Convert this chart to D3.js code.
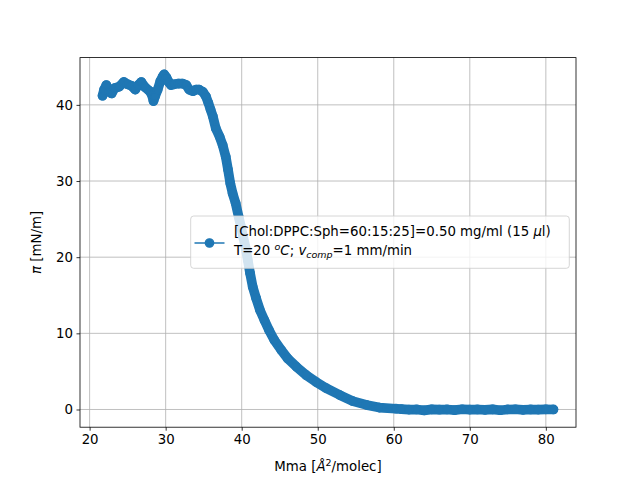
<!DOCTYPE html>
<html>
<head>
<meta charset="utf-8">
<script src="https://cdn.jsdelivr.net/npm/d3@7"></script>
<style>
  body { margin: 0; background: #fff; }
  svg { font-family: "DejaVu Sans", sans-serif; }
  .tick text { font-size: 13.33px; fill: #000; }
</style>
</head>
<body>
<div id="chart"></div>
<script>
// isotherm: mean molecular area vs surface pressure
var mma = [21.7, 21.9, 22.2, 22.6, 22.9, 23.3, 23.9, 24.5, 25.0, 25.5,
           26.0, 26.4, 26.8, 27.3, 27.9, 28.2, 28.4, 28.6, 28.95, 29.3,
           29.6, 29.8, 30.1, 30.4, 30.7, 31.1, 31.7, 32.2, 32.7, 33.1,
           33.6, 34.0, 34.4, 34.9, 35.3, 35.6, 35.9, 36.2, 36.6, 37.1,
           37.5, 37.9, 38.2, 38.5, 38.8, 39.2, 39.6, 39.9, 40.2, 40.5,
           40.8, 41.1, 41.45, 41.9, 42.4, 43.0, 43.6, 44.3, 45.2, 46.05,
           47.2, 48.5, 49.8, 51.1, 52.9, 54.6, 56.4, 58.1, 60.3, 61.0,
           62.0, 63.0, 64.0, 65.0, 66.0, 67.0, 68.0, 69.0, 70.0, 71.0,
           72.0, 73.0, 74.0, 75.0, 76.0, 77.0, 78.0, 79.0, 80.0, 81.0];
var pi  = [41.2, 42.0, 42.6, 41.7, 41.5, 42.2, 42.4, 43.0, 42.7, 42.5,
           42.0, 42.6, 43.0, 42.3, 41.8, 41.3, 40.5, 41.1, 42.0, 43.1,
           43.7, 44.0, 43.6, 43.0, 42.6, 42.7, 42.8, 42.8, 42.6, 42.0,
           41.8, 42.0, 42.0, 41.7, 41.1, 40.3, 39.4, 38.5, 36.9, 35.8,
           34.7, 33.2, 31.5, 29.7, 28.4, 27.1, 25.3, 24.0, 22.6, 21.3,
           19.6, 17.9, 16.1, 14.6, 13.05, 11.7, 10.4, 9.1, 7.8, 6.7,
           5.6, 4.5, 3.6, 2.8, 1.9, 1.1, 0.6, 0.25, 0.1, 0.05,
           -0.02, 0.0, -0.12, 0.02, -0.03, 0.0, -0.08, 0.03, -0.02, 0.0,
           -0.05, 0.02, -0.1, 0.0, 0.03, -0.04, 0.0, -0.02, 0.02, 0.0];
var xTicks = [20, 30, 40, 50, 60, 70, 80];
var yTicks = [0, 10, 20, 30, 40];

var W = 640, H = 480;
var axL = 80, axR = 576, axT = 57.6, axB = 427.2;
var blue = '#1f77b4';

var points = mma.map(function(d, i) { return {x: d, y: pi[i]}; });

function padded(ext) {
    var p = (ext[1] - ext[0]) * 0.05;
    return [ext[0] - p, ext[1] + p];
}

var x = d3.scaleLinear().domain(padded(d3.extent(mma))).range([axL, axR]);
var y = d3.scaleLinear().domain(padded(d3.extent(pi))).range([axB, axT]);

var svg = d3.select('#chart').append('svg')
    .attr('width', W)
    .attr('height', H);

svg.append('rect').attr('width', W).attr('height', H).attr('fill', '#fff');

// grid
svg.append('g').selectAll('line')
    .data(xTicks).enter().append('line')
        .attr('x1', function(d) { return x(d); })
        .attr('x2', function(d) { return x(d); })
        .attr('y1', axT).attr('y2', axB)
        .attr('stroke', '#b0b0b0').attr('stroke-width', 0.8);
svg.append('g').selectAll('line')
    .data(yTicks).enter().append('line')
        .attr('y1', function(d) { return y(d); })
        .attr('y2', function(d) { return y(d); })
        .attr('x1', axL).attr('x2', axR)
        .attr('stroke', '#b0b0b0').attr('stroke-width', 0.8);

// data: marker band, thin line, markers
svg.append('clipPath').attr('id', 'clip')
    .append('rect').attr('x', axL).attr('y', axT)
    .attr('width', axR - axL).attr('height', axB - axT);

var plot = svg.append('g').attr('clip-path', 'url(#clip)');
var line = d3.line()
    .x(function(d) { return x(d.x); })
    .y(function(d) { return y(d.y); });

plot.append('path')
    .datum(points)
    .attr('d', line)
    .attr('fill', 'none')
    .attr('stroke', blue)
    .attr('stroke-width', 9.7)
    .attr('stroke-linejoin', 'round')
    .attr('stroke-linecap', 'round');
plot.append('path')
    .datum(points)
    .attr('d', line)
    .attr('fill', 'none')
    .attr('stroke', blue)
    .attr('stroke-width', 1.5);
plot.selectAll('circle')
    .data(points).enter().append('circle')
        .attr('cx', function(d) { return x(d.x); })
        .attr('cy', function(d) { return y(d.y); })
        .attr('r', 4.17)
        .attr('fill', blue)
        .attr('stroke', blue)
        .attr('stroke-width', 1.39);

// axes
var xAxis = svg.append('g')
    .attr('transform', 'translate(0,' + axB + ')')
    .call(d3.axisBottom(x).tickValues(xTicks).tickSize(3.5).tickPadding(3.5).tickFormat(d3.format('d')));
var yAxis = svg.append('g')
    .attr('transform', 'translate(' + axL + ',0)')
    .call(d3.axisLeft(y).tickValues(yTicks).tickSize(3.5).tickPadding(3.5).tickFormat(d3.format('d')));
[xAxis, yAxis].forEach(function(a) {
    a.select('.domain').remove();
    a.selectAll('.tick line').attr('stroke', '#000').attr('stroke-width', 0.8);
    a.selectAll('.tick text').attr('font-family', '"DejaVu Sans", sans-serif').attr('font-size', 13.33);
});

svg.append('rect')
    .attr('x', axL).attr('y', axT)
    .attr('width', axR - axL).attr('height', axB - axT)
    .attr('fill', 'none')
    .attr('stroke', '#000')
    .attr('stroke-width', 0.8);

// axis labels
var xl = svg.append('text')
    .attr('x', (axL + axR) / 2)
    .attr('y', 471)
    .attr('text-anchor', 'middle')
    .attr('font-size', 13.33);
xl.append('tspan').text('Mma [');
xl.append('tspan').attr('font-style', 'italic').text('Å');
xl.append('tspan').attr('font-size', 9.5).attr('dy', -5.5).text('2');
xl.append('tspan').attr('dy', 5.5).text('/molec]');

var yl = svg.append('text')
    .attr('transform', 'translate(41,' + ((axT + axB) / 2) + ') rotate(-90)')
    .attr('text-anchor', 'middle')
    .attr('font-size', 13.33);
yl.append('tspan').attr('font-style', 'italic').text('π');
yl.append('tspan').text(' [mN/m]');

// legend
var lg = svg.append('g');
lg.append('rect')
    .attr('x', 190.7).attr('y', 216)
    .attr('width', 378.6).attr('height', 52.3)
    .attr('rx', 3)
    .attr('fill', '#fff').attr('fill-opacity', 0.8)
    .attr('stroke', '#cccccc').attr('stroke-width', 0.8);
lg.append('line')
    .attr('x1', 194.5).attr('x2', 224.5)
    .attr('y1', 243).attr('y2', 243)
    .attr('stroke', blue).attr('stroke-width', 1.5);
lg.append('circle')
    .attr('cx', 209.5).attr('cy', 243).attr('r', 4.17)
    .attr('fill', blue).attr('stroke', blue).attr('stroke-width', 1.39);

var t1 = lg.append('text').attr('x', 234).attr('y', 236).attr('font-size', 13.33);
t1.append('tspan').text('[Chol:DPPC:Sph=60:15:25]=0.50 mg/ml (15 ');
t1.append('tspan').attr('font-style', 'italic').text('μ');
t1.append('tspan').text('l)');

var t2 = lg.append('text').attr('x', 234).attr('y', 255).attr('font-size', 13.33);
t2.append('tspan').text('T=20 ');
t2.append('tspan').attr('font-style', 'italic').attr('font-size', 9.5).attr('dy', -5.5).text('o');
t2.append('tspan').attr('font-style', 'italic').attr('dy', 5.5).text('C');
t2.append('tspan').text('; ');
t2.append('tspan').attr('font-style', 'italic').text('v');
t2.append('tspan').attr('font-style', 'italic').attr('font-size', 9.5).attr('dy', 3).text('comp');
t2.append('tspan').attr('dy', -3).text('=1 mm/min');
</script>
</body>
</html>
